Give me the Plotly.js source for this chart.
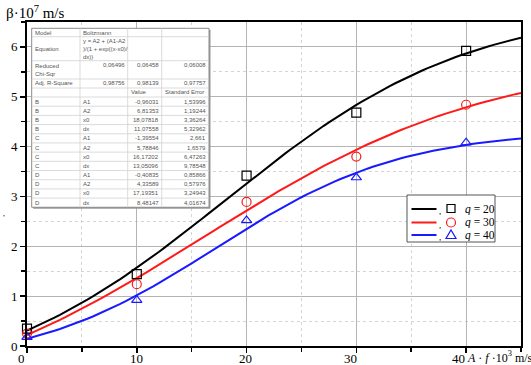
<!DOCTYPE html>
<html><head><meta charset="utf-8">
<script src="https://cdn.plot.ly/plotly-3.0.1.min.js"></script>
<style>html,body{margin:0;padding:0;background:#fff}</style>
</head><body><div id="chart" style="width:531px;height:365px"></div>
<script>
// ---- measured data points ----
const xPoints = [0, 10, 20, 30, 40];
const yQ20 = [0.35, 1.44, 3.42, 4.68, 5.92];
const yQ30 = [0.25, 1.24, 2.89, 3.80, 4.84];
const yQ40 = [0.18, 0.92, 2.52, 3.38, 4.08];
const seriesQ = [20, 30, 40];
const seriesColors = ['#000000', '#ff1a1a', '#1a1aff'];
const seriesSymbols = ['square-open', 'circle-open', 'triangle-up-open'];

// ---- Boltzmann fit parameters ----
const fitLabels = ['B', 'C', 'D'];
const fitA1 = [-0.96031, -1.39554, -0.40835];
const fitA2 = [6.81353, 5.78846, 4.33589];
const fitX0 = [18.07818, 16.17202, 17.19351];
const fitDx = [11.07558, 13.05096, 8.48147];
const errA1 = ['1,53996', '2,661', '0,85866'];
const errA2 = ['1,19244', '1,6579', '0,57976'];
const errX0 = ['3,36264', '6,47263', '3,24943'];
const errDx = ['5,32962', '9,78548', '4,01674'];
const valA1 = ['-0,96031', '-1,39554', '-0,40835'];
const valA2 = ['6,81353', '5,78846', '4,33589'];
const valX0 = ['18,07818', '16,17202', '17,19351'];
const valDx = ['11,07558', '13,05096', '8,48147'];
const chiSqr = ['0,06496', '0,06458', '0,06008'];
const adjR2 = ['0,98756', '0,98139', '0,97757'];

const xTickVals = [0, 10, 20, 30, 40];
const xTickText = ['0', '10', '20', '30', '40'];
const yTickVals = [0, 1, 2, 3, 4, 5, 6];

// fitted curve evaluated from the table parameters
const curveX = [];
for (let i = 0; i <= 90; i++) curveX.push(i * 0.5);
function boltz(k, x) {
  return fitA2[k] + (fitA1[k] - fitA2[k]) / (1 + Math.exp((x - fitX0[k]) / fitDx[k]));
}

const ySeries = [yQ20, yQ30, yQ40];
const traces = [];
for (let k = 0; k < 3; k++) {
  traces.push({x: curveX, y: curveX.map(x => boltz(k, x)), mode: 'lines',
    line: {color: seriesColors[k], width: 2}, showlegend: false, hoverinfo: 'skip'});
}
for (let k = 0; k < 3; k++) {
  traces.push({x: xPoints, y: ySeries[k], mode: 'markers',
    marker: {symbol: seriesSymbols[k], color: seriesColors[k], size: 9, line: {width: 1.2, color: seriesColors[k]}},
    showlegend: false, cliponaxis: false});
}

// ---- pixel helpers ----
const W = 531, H = 365, ML = 27, MR = 10, MT = 22, MB = 19;
const PW = W - ML - MR, PH = H - MT - MB;
const px = p => (p - ML) / PW;
const py = p => (H - MB - p) / PH;

const shapes = [];
const annotations = [];
const serif = 'Liberation Serif, Times New Roman, serif';

// ---- x tick labels (placed as text under each tick) ----
const xLabelShift = [-6, 0, -1, -6, -8];
for (let i = 0; i < xTickVals.length; i++) {
  annotations.push({text: xTickText[i], xref: 'x', yref: 'paper', x: xTickVals[i], y: py(358),
    xanchor: 'center', yanchor: 'middle', xshift: xLabelShift[i], showarrow: false,
    font: {family: serif, size: 13, color: '#000'}, borderpad: 0, height: 13});
}

// ---- table ----
const colX = [31.7, 80, 127.7, 161.7, 209];
const rowY = [28.3, 36.7, 60.7, 79, 88, 97];
for (let i = 1; i <= 12; i++) rowY.push(97 + i * 9.19);
const tTop = rowY[0], tBot = rowY[rowY.length - 1];
shapes.push({type: 'rect', xref: 'paper', yref: 'paper', x0: px(colX[0] + 1.5), x1: px(colX[4] + 1.5),
  y0: py(tTop + 1.5), y1: py(tBot + 1.5), fillcolor: '#9a9a9a', line: {width: 0}, layer: 'above'});
shapes.push({type: 'rect', xref: 'paper', yref: 'paper', x0: px(colX[0]), x1: px(colX[4]),
  y0: py(tTop), y1: py(tBot), fillcolor: '#ffffff', line: {width: 1, color: '#8a8a8a'}, layer: 'above'});
for (let i = 1; i < rowY.length - 1; i++) {
  shapes.push({type: 'line', xref: 'paper', yref: 'paper', x0: px(colX[0]), x1: px(colX[4]),
    y0: py(rowY[i]), y1: py(rowY[i]), line: {width: 0.8, color: '#d2d2d2'}, layer: 'above'});
}
for (let j = 1; j < colX.length - 1; j++) {
  shapes.push({type: 'line', xref: 'paper', yref: 'paper', x0: px(colX[j]), x1: px(colX[j]),
    y0: py(tTop), y1: py(tBot), line: {width: 0.8, color: '#d2d2d2'}, layer: 'above'});
}
const tf = {family: 'Liberation Sans, Arial, sans-serif', size: 6, color: '#555'};
function cell(text, col, row, align, valign) {
  const yTop = rowY[row], yB = rowY[row + 1];
  let yy, ya;
  if (valign === 'top') { yy = py(yTop + 0.5); ya = 'top'; }
  else { yy = py((yTop + yB) / 2); ya = 'middle'; }
  if (align === 'right') {
    annotations.push({text, xref: 'paper', yref: 'paper', x: px(colX[col + 1] - 2), y: yy,
      xanchor: 'right', yanchor: ya, showarrow: false, font: tf, align: 'right', borderpad: 0});
  } else {
    annotations.push({text, xref: 'paper', yref: 'paper', x: px(colX[col] + 2), y: yy,
      xanchor: 'left', yanchor: ya, showarrow: false, font: tf, align: 'left', borderpad: 0});
  }
}
cell('Model', 0, 0, 'left'); cell('Boltzmann', 1, 0, 'left');
cell('Equation', 0, 1, 'left');
cell('y = A2 + (A1-A2<br>)/(1 + exp((x-x0)/<br>dx))', 1, 1, 'left');
cell('Reduced<br>Chi-Sqr', 0, 2, 'left');
cell('Adj. R-Square', 0, 3, 'left');
for (let k = 0; k < 3; k++) {
  cell(chiSqr[k], 1 + k, 2, 'right', 'top');
  cell(adjR2[k], 1 + k, 3, 'right');
}
cell('Value', 2, 4, 'left'); cell('Standard Error', 3, 4, 'left');
const paramNames = ['A1', 'A2', 'x0', 'dx'];
const vals = [valA1, valA2, valX0, valDx];
const errs = [errA1, errA2, errX0, errDx];
for (let k = 0; k < 3; k++) {
  for (let p = 0; p < 4; p++) {
    const r = 5 + k * 4 + p;
    cell(fitLabels[k], 0, r, 'left');
    cell(paramNames[p], 1, r, 'left');
    cell(vals[p][k], 2, r, 'right');
    cell(errs[p][k], 3, r, 'right');
  }
}

// ---- legend (drawn manually) ----
shapes.push({type: 'rect', xref: 'paper', yref: 'paper', x0: px(407), x1: px(495), y0: py(195), y1: py(242),
  fillcolor: '#ffffff', line: {width: 1, color: '#555'}, layer: 'above'});
const legY = [209, 222.5, 235];
for (let k = 0; k < 3; k++) {
  const yy = legY[k];
  shapes.push({type: 'line', xref: 'paper', yref: 'paper', x0: px(411.5), x1: px(436.5), y0: py(yy), y1: py(yy),
    line: {width: 2, color: seriesColors[k]}, layer: 'above'});
  annotations.push({text: ',', xref: 'paper', yref: 'paper', x: px(439.5), y: py(yy + 2), showarrow: false,
    font: {family: serif, size: 9, color: '#000'}, xanchor: 'center', yanchor: 'middle', height: 8, borderpad: 0});
  annotations.push({text: '<i>q</i> = ' + seriesQ[k], xref: 'paper', yref: 'paper', x: px(464), y: py(yy),
    showarrow: false, font: {family: serif, size: 11.5, color: '#000'}, xanchor: 'left', yanchor: 'middle',
    height: 11, borderpad: 0});
}
const mx = 451;
shapes.push({type: 'rect', xref: 'paper', yref: 'paper', x0: px(mx - 4), x1: px(mx + 4), y0: py(legY[0] - 4.5), y1: py(legY[0] + 3.5),
  line: {width: 1.2, color: seriesColors[0]}, fillcolor: 'rgba(0,0,0,0)', layer: 'above'});
shapes.push({type: 'circle', xref: 'paper', yref: 'paper', x0: px(mx - 4.5), x1: px(mx + 4.5), y0: py(legY[1] - 4.5), y1: py(legY[1] + 4.5),
  line: {width: 1.2, color: seriesColors[1]}, fillcolor: 'rgba(0,0,0,0)', layer: 'above'});
shapes.push({type: 'path', xref: 'paper', yref: 'paper',
  path: `M${px(mx - 5)},${py(legY[2] + 3.5)} L${px(mx + 5)},${py(legY[2] + 3.5)} L${px(mx)},${py(legY[2] - 5)} Z`,
  line: {width: 1.2, color: seriesColors[2]}, fillcolor: 'rgba(0,0,0,0)', layer: 'above'});

// ---- axis titles ----
annotations.push({text: 'β·10<sup>7</sup> m/s', xref: 'paper', yref: 'paper', x: px(4), y: py(12),
  xanchor: 'left', yanchor: 'middle', showarrow: false, font: {family: serif, size: 15, color: '#000'}});
annotations.push({text: '<i>A</i> · <i>f</i> ·10<sup>3</sup> m/s', xref: 'paper', yref: 'paper', x: px(466), y: py(357),
  xanchor: 'left', yanchor: 'middle', showarrow: false, font: {family: serif, size: 12, color: '#000'},
  height: 14, borderpad: 0});
// stray comma left of the y axis in the original
annotations.push({text: ',', xref: 'paper', yref: 'paper', x: px(4), y: py(213), xanchor: 'center', yanchor: 'middle',
  showarrow: false, font: {family: serif, size: 8, color: '#000'}, height: 8, borderpad: 0});

const axisCommon = {
  showline: true, linewidth: 2, linecolor: '#000', mirror: true,
  ticks: 'outside', ticklen: 5, tickwidth: 1.5, tickcolor: '#000',
  showgrid: true, gridcolor: '#b4b4b4', gridwidth: 1, zeroline: false,
  tickfont: {family: serif, size: 13, color: '#000'}
};
const layout = {
  width: W, height: H,
  margin: {l: ML, r: MR, t: MT, b: MB, pad: 0},
  paper_bgcolor: '#fff', plot_bgcolor: '#fff',
  showlegend: false,
  xaxis: Object.assign({}, axisCommon, {range: [0, 45], tickvals: xTickVals, showticklabels: false,
    minor: {dtick: 5, tick0: 0, ticks: 'outside', ticklen: 4, tickcolor: '#000', showgrid: true, gridcolor: '#d4d4d4', griddash: 'dot', gridwidth: 1}}),
  yaxis: Object.assign({}, axisCommon, {range: [0, 6.5], tickvals: yTickVals,
    minor: {dtick: 0.5, tick0: 0, ticks: 'outside', ticklen: 4, tickcolor: '#000', showgrid: true, gridcolor: '#d4d4d4', griddash: 'dot', gridwidth: 1}}),
  shapes, annotations
};
Plotly.newPlot('chart', traces, layout, {displayModeBar: false, staticPlot: true});
</script></body></html>
